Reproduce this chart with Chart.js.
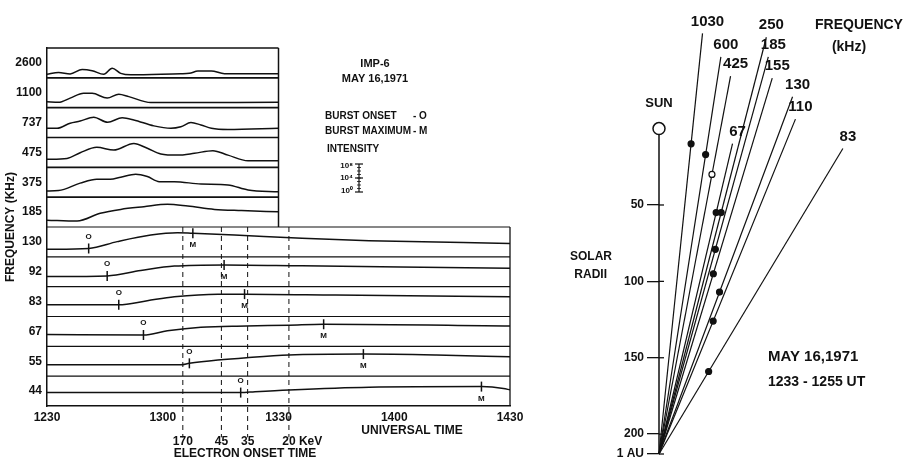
<!DOCTYPE html>
<html>
<head>
<meta charset="utf-8">
<title>IMP-6 radio bursts, May 16, 1971</title>
<script src="https://cdn.jsdelivr.net/npm/chart.js@4.4.1/dist/chart.umd.min.js"></script>
<style>
  html, body { margin: 0; padding: 0; background: #fff; }
  #wrap { position: relative; width: 908px; height: 466px; overflow: hidden; }
  #timeChart { position: absolute; left: 0; top: 0; }
  #radiusChart { position: absolute; left: 530px; top: 0; }
</style>
</head>
<body>
<div id="wrap">
  <canvas id="timeChart" width="530" height="466"></canvas>
  <canvas id="radiusChart" width="378" height="466"></canvas>
</div>
<script>
const FONT = '"Liberation Sans", Arial, sans-serif';
const INK = '#111';

// --- Left panel: intensity strips, x in minutes after 12:30 UT ---
const freqLabels = ['2600', '1100', '737', '475', '375', '185', '130', '92', '83', '67', '55', '44'];
const timeTicks = ['1230', '1300', '1330', '1400', '1430'];
const upperEnd = 60; // the six upper strips stop at 1330

// [minute, level inside its strip (0 = floor, 1 = top)]
const prof2600 = [[0, 0.12], [3, 0.18], [6, 0.13], [9.1, 0.28], [11.7, 0.24], [14.7, 0.12], [16.9, 0.32], [19.1, 0.15], [21.7, 0.10], [34.7, 0.14], [36.9, 0.15], [39.1, 0.23], [42.6, 0.23], [46, 0.14], [60, 0.14]];
const prof1100 = [[0, 0.20], [3, 0.18], [6, 0.32], [9.5, 0.48], [11.7, 0.48], [15.6, 0.32], [18.6, 0.45], [21.2, 0.37], [26.9, 0.17], [60, 0.18]];
const prof737 = [[0, 0.31], [2.6, 0.31], [6, 0.48], [8.6, 0.55], [12.1, 0.68], [15.7, 0.51], [19.5, 0.66], [22.5, 0.59], [27.7, 0.39], [32.1, 0.31], [34.7, 0.36], [37.3, 0.50], [39.9, 0.42], [42.6, 0.31], [46.9, 0.27], [60, 0.31]];
const prof475 = [[0, 0.27], [5.2, 0.30], [8.6, 0.49], [12.9, 0.67], [17.3, 0.58], [22.5, 0.80], [26, 0.64], [29.5, 0.45], [33.8, 0.41], [38.2, 0.47], [43, 0.56], [46.9, 0.41], [52.1, 0.22], [60, 0.22]];
const prof375 = [[0, 0.21], [3, 0.22], [8.6, 0.47], [12.9, 0.60], [16.4, 0.60], [19.1, 0.67], [23, 0.77], [26, 0.69], [29.1, 0.52], [33, 0.52], [39.9, 0.44], [46.9, 0.41], [52.1, 0.24], [60, 0.18]];
const prof185 = [[0, 0.23], [7.8, 0.20], [13.8, 0.46], [19.1, 0.59], [25.1, 0.68], [31.2, 0.76], [36.5, 0.70], [43.4, 0.59], [50.4, 0.55], [60, 0.51]];
const prof130 = [[0, 0.25], [10.8, 0.28], [18.2, 0.51], [26.9, 0.73], [33.8, 0.81], [37.8, 0.79], [48.6, 0.73], [66.1, 0.62], [83.5, 0.54], [120, 0.45]];
const prof92 = [[0, 0.34], [15.6, 0.36], [24.3, 0.54], [33, 0.69], [45.9, 0.73], [66.1, 0.70], [120, 0.62]];
const prof83 = [[0, 0.39], [18.6, 0.39], [26, 0.53], [33, 0.66], [44.3, 0.75], [51.2, 0.75], [74.8, 0.72], [120, 0.66]];
const prof67 = [[0, 0.40], [25, 0.38], [31.2, 0.52], [39.9, 0.64], [51.7, 0.68], [62.7, 0.71], [71.7, 0.74], [120, 0.68]];
const prof55 = [[0, 0.38], [34.7, 0.38], [36.9, 0.43], [44.3, 0.54], [51.7, 0.62], [62.7, 0.71], [82, 0.74], [100.9, 0.71], [120, 0.65]];
const prof44 = [[0, 0.45], [50.2, 0.45], [53.9, 0.48], [62.7, 0.54], [83.5, 0.63], [112.6, 0.65], [118.3, 0.59], [120, 0.54]];
const profiles = [prof2600, prof1100, prof737, prof475, prof375, prof185, prof130, prof92, prof83, prof67, prof55, prof44];

// burst onset (O) and maximum (M), minutes after 12:30
const burstRows = ['130', '92', '83', '67', '55', '44'];
const onsetMin = [10.8, 15.6, 18.6, 25.0, 36.9, 50.2];
const maxMin = [37.8, 45.9, 51.2, 71.7, 82.0, 112.6];

// electron onset times at the spacecraft
const electronKeV = ['170', '45', '35', '20'];
const electronMin = [35.2, 45.2, 52.0, 62.7];

// --- Right panel: source directions, solar radii ---
const AU = 213;
const radiusTicks = [50, 100, 150, 200, AU];
const radiusTickLabels = ['50', '100', '150', '200', '1 AU'];
const srcFreq = ['1030', '600', '425', '250', '185', '155', '67', '130', '110', '83'];
const dirEndX = [28.7, 40.8, 47.2, 70.8, 72.1, 74.7, 48.5, 88.1, 90.0, 121.3];
const dirEndR = [-62.3, -47.0, -34.3, -59.8, -47.0, -33.0, 9.8, -20.9, -6.2, 13.0];
const srcR = [10, 17, 30, 55, 79, 95, 55, 107, 126, 159];
const openSrc = ['425'];

function levelAt(profile, t) {
    for (let k = 1; k < profile.length; k++) {
        const [t0, v0] = profile[k - 1];
        const [t1, v1] = profile[k];
        if (t <= t1) return v0 + (v1 - v0) * (t - t0) / (t1 - t0);
    }
    return profile[profile.length - 1][1];
}

function stripY(freq, t) {
    const i = freqLabels.indexOf(freq);
    return 11 - i + levelAt(profiles[i], t);
}

function txt(ctx, s, x, y, size, align = 'center') {
    ctx.font = `bold ${size}px ${FONT}`;
    ctx.textAlign = align;
    ctx.textBaseline = 'middle';
    ctx.fillStyle = INK;
    ctx.fillText(s, x, y);
}

function seg(ctx, x1, y1, x2, y2, w) {
    ctx.beginPath();
    ctx.lineWidth = w;
    ctx.moveTo(x1, y1);
    ctx.lineTo(x2, y2);
    ctx.stroke();
}

// --- left chart ---
const traceSets = profiles.map((p, i) => ({
    label: freqLabels[i],
    data: p.map(([t, v]) => ({ x: t, y: 11 - i + v })),
    showLine: true,
    borderColor: INK,
    borderWidth: 1.5,
    pointRadius: 0,
    cubicInterpolationMode: 'monotone'
}));

const onsetSet = {
    label: 'onset',
    data: burstRows.map((f, k) => ({ x: onsetMin[k], y: stripY(f, onsetMin[k]) })),
    pointStyle: 'line',
    pointRotation: 90,
    pointRadius: 5,
    pointBorderWidth: 1.5,
    pointBorderColor: INK
};
const maxSet = {
    label: 'max',
    data: burstRows.map((f, k) => ({ x: maxMin[k], y: stripY(f, maxMin[k]) })),
    pointStyle: 'line',
    pointRotation: 90,
    pointRadius: 5,
    pointBorderWidth: 1.5,
    pointBorderColor: INK
};

const electronSets = electronMin.map((t, k) => ({
    label: electronKeV[k] + ' keV',
    data: [{ x: t, y: 6 }, { x: t, y: -1.05 }],
    showLine: true,
    borderColor: INK,
    borderWidth: 1,
    borderDash: [5, 4],
    pointRadius: 0,
    clip: false
}));

const stripFrame = {
    id: 'stripFrame',
    beforeDatasetsDraw(chart) {
        const { ctx, scales: { x, y } } = chart;
        ctx.save();
        ctx.strokeStyle = INK;
        const x0 = x.getPixelForValue(0);
        const xu = x.getPixelForValue(upperEnd);
        const xe = x.getPixelForValue(120);
        // upper block: 1230-1330
        seg(ctx, x0, y.getPixelForValue(12), xu, y.getPixelForValue(12), 1.5);
        seg(ctx, xu, y.getPixelForValue(12), xu, y.getPixelForValue(6), 1.5);
        for (let b = 7; b <= 11; b++) {
            seg(ctx, x0, y.getPixelForValue(b), xu, y.getPixelForValue(b), 1.6);
        }
        // lower block: full time range
        for (let b = 1; b <= 6; b++) {
            seg(ctx, x0, y.getPixelForValue(b), xe, y.getPixelForValue(b), 1.2);
        }
        seg(ctx, xe, y.getPixelForValue(6), xe, y.getPixelForValue(0), 1.3);
        ctx.restore();
    }
};

const stripText = {
    id: 'stripText',
    afterDraw(chart) {
        const { ctx, scales: { x } } = chart;
        ctx.save();
        // O / M letters beside the tick marks
        const onsetMeta = chart.getDatasetMeta(traceSets.length);
        const maxMeta = chart.getDatasetMeta(traceSets.length + 1);
        onsetMeta.data.forEach(p => txt(ctx, 'O', p.x, p.y - 12, 8));
        maxMeta.data.forEach(p => txt(ctx, 'M', p.x, p.y + 12, 8));

        // electron energies under the dashed lines
        electronMin.forEach((t, k) => {
            const px = x.getPixelForValue(t);
            txt(ctx, electronKeV[k], px, 442, 12);
            if (k === electronMin.length - 1) txt(ctx, 'KeV', px + 10, 442, 12, 'left');
        });
        txt(ctx, 'ELECTRON ONSET TIME', 245, 454, 12);
        txt(ctx, 'UNIVERSAL TIME', 412, 431, 12);

        // key
        txt(ctx, 'IMP-6', 375, 64, 11);
        txt(ctx, 'MAY 16,1971', 375, 79, 11);
        txt(ctx, 'BURST ONSET', 325, 116, 10, 'left');
        txt(ctx, '- O', 413, 116, 10, 'left');
        txt(ctx, 'BURST MAXIMUM', 325, 131, 10, 'left');
        txt(ctx, '- M', 413, 131, 10, 'left');
        txt(ctx, 'INTENSITY', 327, 149, 10, 'left');
        txt(ctx, '10⁸', 353, 166, 8, 'right');
        txt(ctx, '10⁴', 353, 178, 8, 'right');
        txt(ctx, '10⁰', 353, 191, 8, 'right');
        ctx.strokeStyle = INK;
        seg(ctx, 359, 164, 359, 192, 1.2);
        seg(ctx, 355, 164, 363, 164, 1.2);
        seg(ctx, 355, 192, 363, 192, 1.2);
        seg(ctx, 355, 178, 363, 178, 1.2);
        for (let ty = 167.5; ty < 191; ty += 3.5) seg(ctx, 357, ty, 361, ty, 0.8);
        ctx.restore();
    }
};

new Chart(document.getElementById('timeChart'), {
    type: 'scatter',
    data: { datasets: [...traceSets, onsetSet, maxSet, ...electronSets] },
    options: {
        responsive: false,
        animation: false,
        events: [],
        layout: { padding: { top: 48, right: 20, left: 0, bottom: 0 } },
        plugins: { legend: { display: false }, tooltip: { enabled: false } },
        scales: {
            x: {
                type: 'linear',
                min: 0,
                max: 120,
                afterFit: s => { s.height = 60; },
                afterBuildTicks: s => { s.ticks = timeTicks.map((_, i) => ({ value: i * 30 })); },
                ticks: {
                    callback: (v, i) => timeTicks[i],
                    font: { family: FONT, size: 12, weight: 'bold' },
                    color: INK,
                    padding: 4,
                    autoSkip: false,
                    maxRotation: 0
                },
                grid: { display: false, drawTicks: false },
                border: { color: INK, width: 1.5 }
            },
            y: {
                type: 'linear',
                min: 0,
                max: 12,
                afterFit: s => { s.width = 47; },
                afterBuildTicks: s => { s.ticks = freqLabels.map((_, i) => ({ value: 11.5 - i })); },
                ticks: {
                    callback: (v, i) => freqLabels[i],
                    font: { family: FONT, size: 12, weight: 'bold' },
                    color: INK,
                    padding: 5
                },
                title: {
                    display: true,
                    text: 'FREQUENCY (KHz)',
                    font: { family: FONT, size: 12, weight: 'bold' },
                    color: INK,
                    padding: { top: 3, bottom: 0 }
                },
                grid: { display: false, drawTicks: false },
                border: { color: INK, width: 1.5 }
            }
        }
    },
    plugins: [stripFrame, stripText]
});

// --- right chart ---
const sunSet = {
    label: 'Sun',
    data: [{ x: 0, y: 0 }],
    pointRadius: 6,
    pointBackgroundColor: '#fff',
    pointBorderColor: INK,
    pointBorderWidth: 1.5,
    clip: false
};
const srcSet = {
    label: 'sources',
    data: srcFreq.map((f, k) => ({
        x: dirEndX[k] * (AU - srcR[k]) / (AU - dirEndR[k]),
        y: srcR[k]
    })),
    pointRadius: 3,
    pointBackgroundColor: c => (openSrc.includes(srcFreq[c.dataIndex]) ? '#fff' : INK),
    pointBorderColor: INK,
    pointBorderWidth: 1.2,
    clip: false
};
const sunAxisSet = {
    label: 'axis',
    data: [{ x: 0, y: 0 }, { x: 0, y: AU }],
    showLine: true,
    borderColor: INK,
    borderWidth: 1.5,
    pointRadius: 0,
    clip: false
};
const dirSets = srcFreq.map((f, k) => ({
    label: f,
    data: [{ x: 0, y: AU }, { x: dirEndX[k], y: dirEndR[k] }],
    showLine: true,
    borderColor: INK,
    borderWidth: 1.2,
    pointRadius: 0,
    clip: false
}));

const radiusText = {
    id: 'radiusText',
    afterDraw(chart) {
        const { ctx, scales: { x, y } } = chart;
        ctx.save();
        // tick marks cross to the right of the radius axis too
        ctx.strokeStyle = INK;
        const x0 = x.getPixelForValue(0);
        radiusTicks.forEach(v => {
            const py = y.getPixelForValue(v);
            seg(ctx, x0, py, x0 + 5, py, 1.3);
        });
        dirSets.forEach((d, k) => {
            const p = chart.getDatasetMeta(3 + k).data[1];
            txt(ctx, srcFreq[k], p.x + 5, p.y - 12, 15);
        });
        txt(ctx, 'SUN', 129, 103, 13);
        txt(ctx, 'FREQUENCY', 329, 25, 14);
        txt(ctx, '(kHz)', 319, 47, 14);
        txt(ctx, 'SOLAR', 82, 257, 12, 'right');
        txt(ctx, 'RADII', 77, 275, 12, 'right');
        txt(ctx, 'MAY 16,1971', 238, 357, 15, 'left');
        txt(ctx, '1233 - 1255 UT', 238, 382, 14, 'left');
        ctx.restore();
    }
};

new Chart(document.getElementById('radiusChart'), {
    type: 'scatter',
    data: { datasets: [sunSet, srcSet, sunAxisSet, ...dirSets] },
    options: {
        responsive: false,
        animation: false,
        events: [],
        layout: { padding: { top: 0, right: 0, left: 0, bottom: 12 } },
        plugins: { legend: { display: false }, tooltip: { enabled: false } },
        scales: {
            x: { type: 'linear', display: false, min: 0, max: 159.3 },
            y: {
                type: 'linear',
                reverse: true,
                min: -77.5,
                max: AU,
                afterFit: s => { s.width = 129; },
                afterBuildTicks: s => { s.ticks = radiusTicks.map(v => ({ value: v })); },
                ticks: {
                    callback: (v, i) => radiusTickLabels[i],
                    font: { family: FONT, size: 12, weight: 'bold' },
                    color: INK,
                    padding: 3
                },
                grid: { drawOnChartArea: false, drawTicks: true, tickLength: 12, color: INK, lineWidth: 1.3 },
                border: { display: false }
            }
        }
    },
    plugins: [radiusText]
});
</script>
</body>
</html>
